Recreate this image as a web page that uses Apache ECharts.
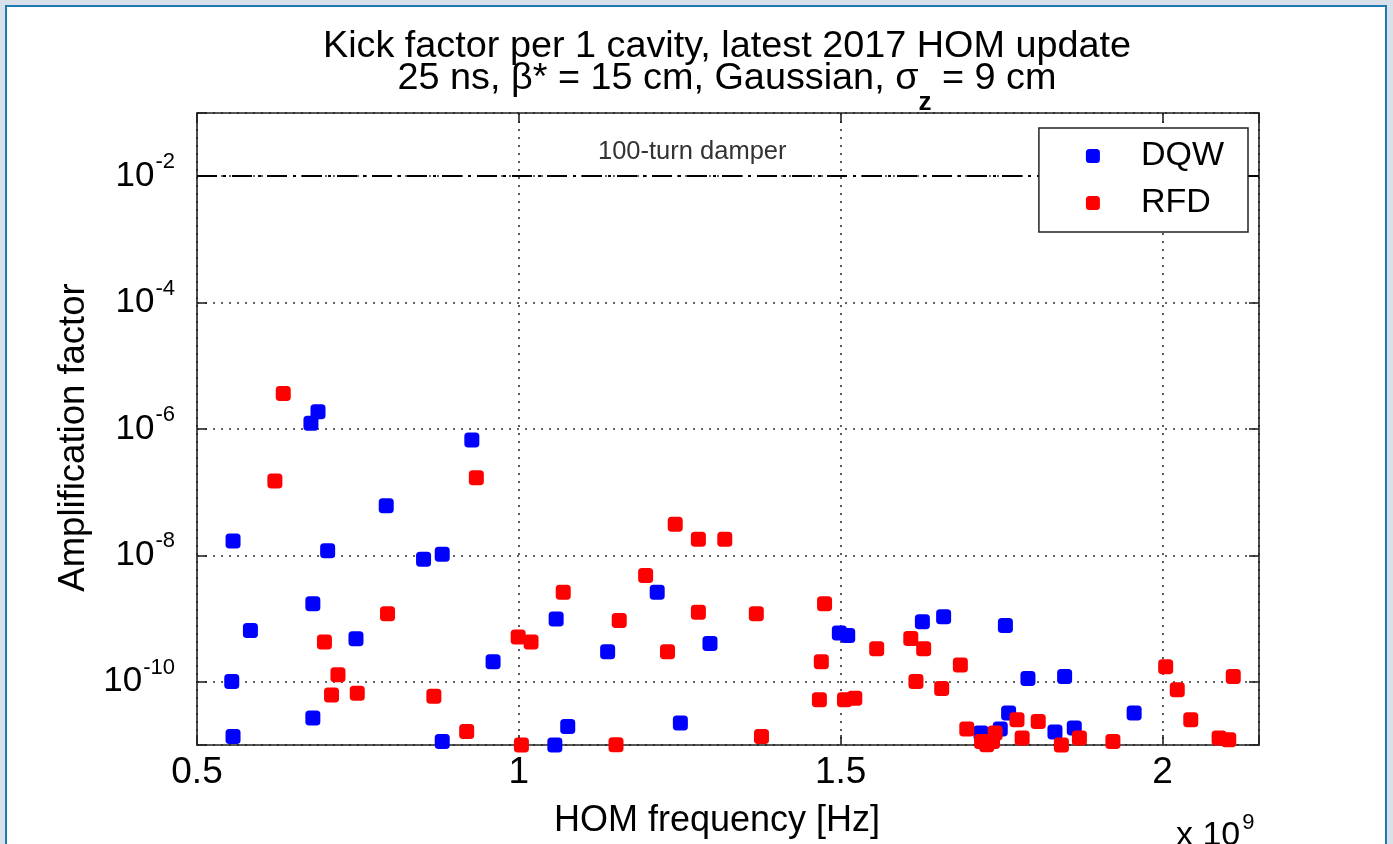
<!DOCTYPE html>
<html><head><meta charset="utf-8">
<script src="https://cdn.jsdelivr.net/npm/echarts@6/dist/echarts.min.js"></script>
<style>
html,body{margin:0;padding:0;width:1393px;height:844px;overflow:hidden;background:#d8e1e9;}
#frame{position:absolute;left:5px;top:5px;width:1382px;height:900px;background:#fff;border:2px solid #1f78b0;box-sizing:border-box;}
#chart{position:absolute;left:0;top:0;width:1393px;height:844px;}
</style></head><body>
<div id="frame"></div><div id="chart"></div>
<script>
// ---- data ----
const xTicks = [0.5, 1, 1.5, 2];           // HOM frequency, x 10^9 Hz
const yTickExps = [-10, -8, -6, -4, -2];   // decades shown on the log axis
const damperLevel = 1e-2;

const dqwFreq = [0.556,0.554,0.556,0.583,0.677,0.688,0.680,0.680,0.703,0.747,
                 0.794,0.852,0.881,0.881,0.927,0.960,1.056,1.058,1.076,1.138,
                 1.215,1.251,1.297,1.498,1.511,1.627,1.660,1.718,1.748,1.756,
                 1.761,1.791,1.833,1.848,1.863,1.956];
const dqwAmp  = [1.69e-8,1.01e-10,1.36e-11,6.5e-10,1.23e-6,1.88e-6,1.71e-9,2.67e-11,1.18e-8,4.8e-10,
                 6.1e-8,8.7e-9,1.04e-8,1.14e-11,6.7e-7,2.07e-10,1.0e-11,9.9e-10,1.96e-11,2.98e-10,
                 2.62e-9,2.22e-11,4.04e-10,5.9e-10,5.4e-10,8.9e-10,1.07e-9,1.55e-11,1.79e-11,7.8e-10,
                 3.2e-11,1.13e-10,1.6e-11,1.21e-10,1.85e-11,3.2e-11];

const rfdFreq = [0.621,0.634,0.698,0.709,0.719,0.749,0.796,0.868,0.919,0.934,
                 0.999,1.004,1.019,1.069,1.151,1.156,1.197,1.231,1.243,1.279,
                 1.279,1.320,1.369,1.377,1.467,1.470,1.475,1.506,1.522,1.556,
                 1.609,1.617,1.629,1.657,1.686,1.696,1.719,1.727,1.736,1.740,
                 1.774,1.782,1.807,1.843,1.871,1.923,2.005,2.023,2.044,2.088,
                 2.103,2.110];
const rfdAmp  = [1.51e-7,3.66e-6,4.25e-10,6.2e-11,1.29e-10,6.6e-11,1.19e-9,5.9e-11,1.64e-11,1.70e-7,
                 5.1e-10,1.0e-11,4.25e-10,2.62e-9,1.01e-11,9.3e-10,4.8e-9,2.98e-10,3.11e-8,1.80e-8,
                 1.26e-9,1.80e-8,1.19e-9,1.36e-11,5.2e-11,2.07e-10,1.71e-9,5.2e-11,5.5e-11,3.33e-10,
                 4.84e-10,1.01e-10,3.33e-10,7.8e-11,1.84e-10,1.79e-11,1.14e-11,1.01e-11,1.14e-11,1.55e-11,
                 2.5e-11,1.29e-11,2.36e-11,1.0e-11,1.29e-11,1.14e-11,1.73e-10,7.5e-11,2.5e-11,1.29e-11,
                 1.21e-11,1.21e-10];

const seriesNames = ['DQW', 'RFD'];
const titleLine1 = 'Kick factor per 1 cavity, latest 2017 HOM update';
const titleLine2 = '25 ns, \u03b2* = 15 cm, Gaussian, \u03c3{z|z} = 9 cm';
const xName = 'HOM frequency [Hz]';
const yName = 'Amplification factor';
const damperText = '100-turn damper';

// ---- build ----
const FONT = "'Liberation Sans', Arial, Helvetica, sans-serif";
const toPts = (xs, ys) => xs.map((x, i) => [x, Math.log10(ys[i])]);
const gridLine = {show: true, lineStyle: {color: '#333', width: 1.6, type: [2, 6]}};
const axLine = {show: true, onZero: false, lineStyle: {color: '#222', width: 1.6}};
const axTick = {show: true, inside: true, length: 10, lineStyle: {color: '#222', width: 1.6}};

const chart = echarts.init(document.getElementById('chart'), null, {renderer: 'canvas'});
chart.setOption({
  animation: false,
  backgroundColor: 'transparent',
  textStyle: {fontFamily: FONT, color: '#000'},
  title: [
    {text: titleLine1, left: 727, top: 29, textAlign: 'center', padding: 0,
     textStyle: {fontFamily: FONT, fontSize: 37.8, fontWeight: 'normal', color: '#000', lineHeight: 36}},
    {text: titleLine2, left: 727, top: 63, textAlign: 'center', padding: 0,
     textStyle: {fontFamily: FONT, fontSize: 37.8, fontWeight: 'normal', color: '#000', lineHeight: 32,
       rich: {z: {fontFamily: FONT, fontSize: 26, fontWeight: 'bold', color: '#000', lineHeight: 26, padding: [48, 0, 0, 0]}}}},
    {text: '{a|x 10}{s|9}', left: 1176, top: 812, padding: 0,
     textStyle: {fontFamily: FONT, fontWeight: 'normal', color: '#000',
       rich: {a: {fontFamily: FONT, fontSize: 34, color: '#000'},
              s: {fontFamily: FONT, fontSize: 22, color: '#000', padding: [0, 0, 26, 2]}}}}
  ],
  legend: {
    data: seriesNames, orient: 'vertical', right: 145, top: 128,
    backgroundColor: '#fff', borderColor: '#222', borderWidth: 1.5, borderRadius: 0,
    padding: [10, 24, 11, 47], itemGap: 11, itemWidth: 14, itemHeight: 14,
    icon: 'roundRect',
    textStyle: {fontFamily: FONT, fontSize: 34, color: '#000', lineHeight: 36, padding: [0, 0, 0, 36]}
  },
  grid: {left: 197, right: 134, top: 113, bottom: 98, containLabel: false},
  xAxis: [
    {type: 'value', min: 0.5, max: 2.15, interval: 0.5, position: 'bottom',
     name: xName, nameLocation: 'middle', nameGap: 58,
     nameTextStyle: {fontFamily: FONT, fontSize: 36, color: '#000', padding: [0, 22, 0, 0]},
     axisLine: axLine, axisTick: axTick, splitLine: gridLine,
     axisLabel: {fontFamily: FONT, fontSize: 37, color: '#000', margin: 9,
       formatter: v => xTicks.some(t => Math.abs(t - v) < 1e-9) ? String(v) : ''}},
    {type: 'value', min: 0.5, max: 2.15, interval: 0.5, position: 'top',
     axisLine: axLine, axisTick: axTick, splitLine: {show: false}, axisLabel: {show: false}}
  ],
  yAxis: [
    {type: 'value', min: -11, max: -1, splitNumber: 5, position: 'left',
     name: yName, nameLocation: 'middle', nameGap: 97, nameRotate: 90,
     nameTextStyle: {fontFamily: FONT, fontSize: 36.5, color: '#000', padding: [0, 17, 0, 0]},
     axisLine: axLine, axisTick: axTick, splitLine: gridLine,
     axisLabel: {margin: 22, fontFamily: FONT, color: '#000',
       formatter: v => yTickExps.includes(v) ? '{b|10}{s|' + v + '}' : '',
       rich: {b: {fontFamily: FONT, fontSize: 35, color: '#000'},
              s: {fontFamily: FONT, fontSize: 22, color: '#000', padding: [0, 0, 28, 1]}}}},
    {type: 'value', min: -11, max: -1, splitNumber: 5, position: 'right',
     axisLine: axLine, axisTick: axTick, splitLine: {show: false}, axisLabel: {show: false}}
  ],
  series: [
    {name: seriesNames[0], type: 'scatter', xAxisIndex: 0, yAxisIndex: 0,
     symbol: 'roundRect', symbolSize: 15, clip: false,
     itemStyle: {color: '#0000ff', opacity: 1},
     data: toPts(dqwFreq, dqwAmp),
     markLine: {silent: true, symbol: 'none', animation: false, z: 3,
       lineStyle: {color: '#000', width: 2, type: [20, 6, 3, 6]},
       label: {show: true, formatter: damperText, position: 'insideStartTop', distance: [401, 11],
               fontFamily: FONT, fontSize: 25.5, color: '#333'},
       data: [{yAxis: Math.log10(damperLevel)}]}},
    {name: seriesNames[1], type: 'scatter', xAxisIndex: 0, yAxisIndex: 0,
     symbol: 'roundRect', symbolSize: 15, clip: false,
     itemStyle: {color: '#ff0000', opacity: 1},
     data: toPts(rfdFreq, rfdAmp)}
  ]
});
</script>
</body></html>
